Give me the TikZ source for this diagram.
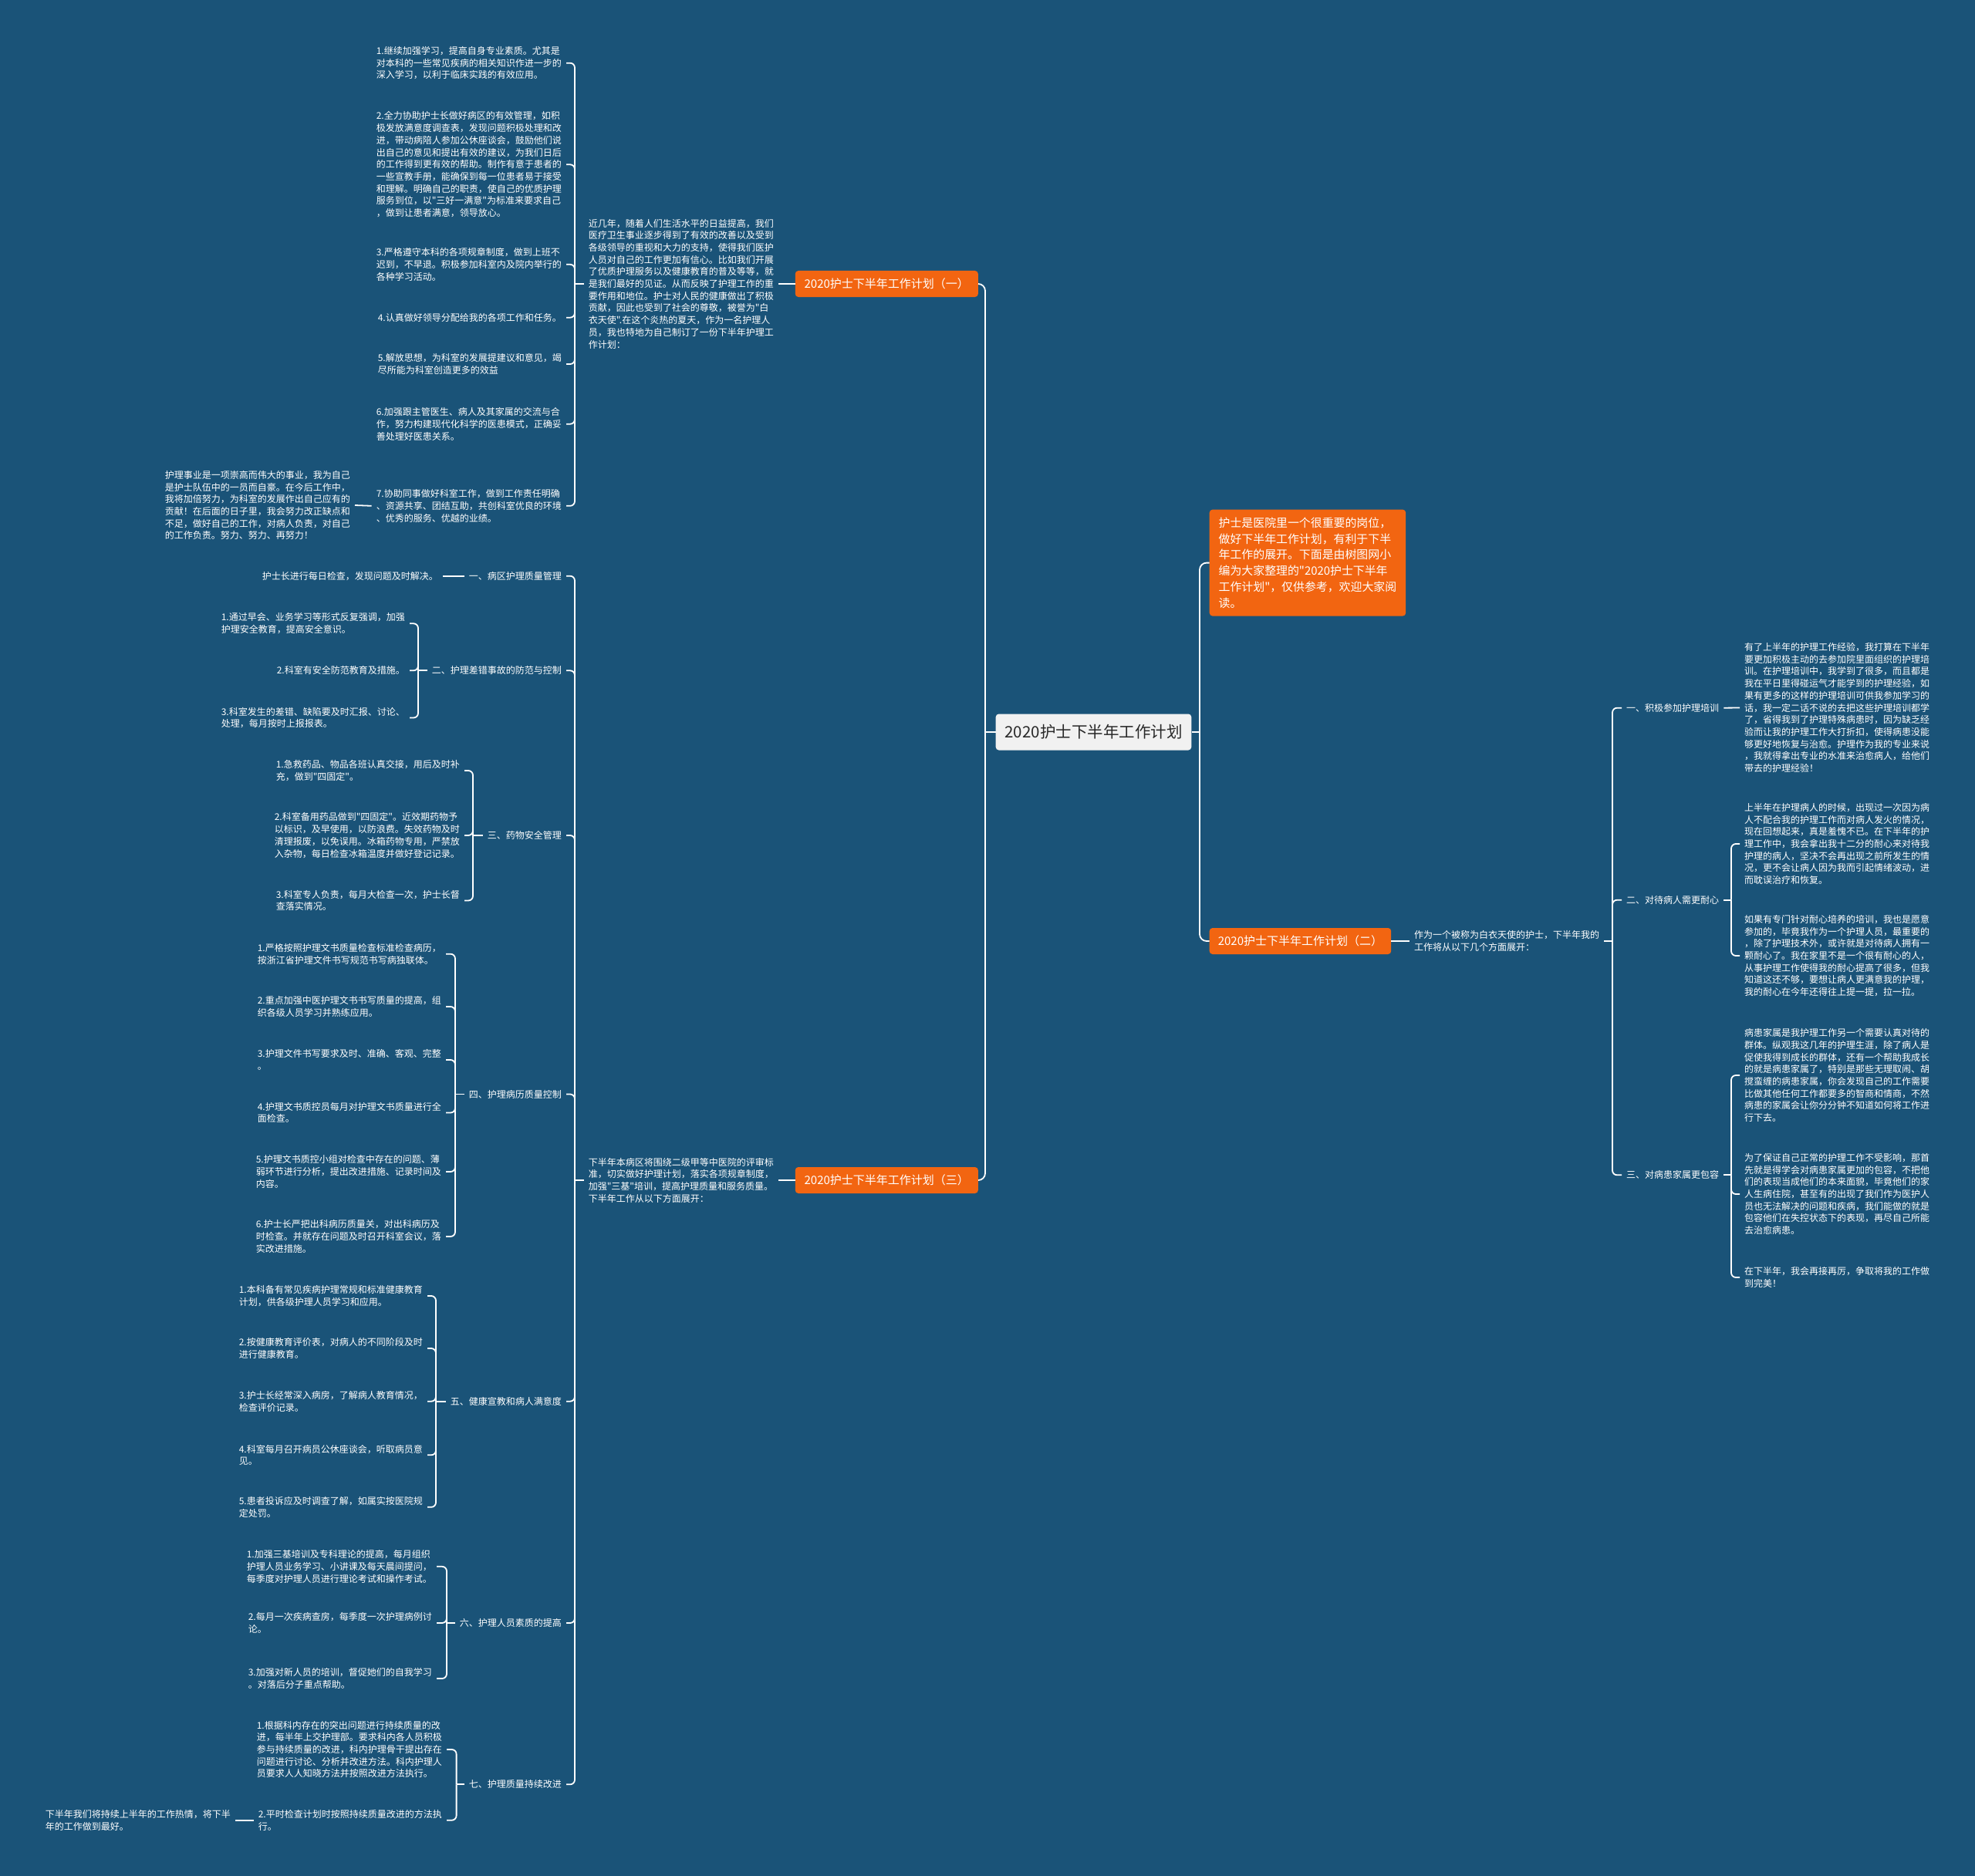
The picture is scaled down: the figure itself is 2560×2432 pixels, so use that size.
\documentclass[tikz,border=0pt]{standalone}
\usepackage{fontspec}
\setmainfont{Noto Sans CJK SC}[Ligatures=TeXOff]
\definecolor{bgc}{RGB}{26,83,120}
\definecolor{orng}{RGB}{242,101,17}
\definecolor{rootfill}{RGB}{241,241,241}
\definecolor{roottext}{RGB}{40,40,40}
\tikzset{
  conn/.style={draw=white, line width=1.8pt, rounded corners=6pt},
  trunk/.style={draw=white, line width=1.8pt, rounded corners=9pt},
  txt/.style={text=white, font=\fontsize{12}{15.7}\selectfont, align=left, inner xsep=6pt, inner ysep=2pt},
  obox/.style={fill=orng, text=white, rounded corners=4pt, font=\fontsize{15}{18}\selectfont, inner sep=0pt, minimum height=34pt},
}
\begin{document}
\begin{tikzpicture}[x=1pt,y=-1pt]
\fill[bgc] (0,0) rectangle (2560,2432);
\useasboundingbox (0,0) rectangle (2560,2432);

% root and first level
\node[fill=rootfill, text=roottext, rounded corners=4pt, minimum width=253.6pt, minimum height=47pt, inner sep=0pt, font=\fontsize{20.5}{24}\selectfont] (root) at (1417.5,949) {2020护士下半年工作计划};
\node[fill=orng, text=white, rounded corners=4pt, anchor=west, minimum width=254.5pt, minimum height=138pt, inner sep=0pt, align=left, font=\fontsize{14.9}{20.7}\selectfont] (intro) at (1567.5,729.6) {护士是医院里一个很重要的岗位，\\做好下半年工作计划，有利于下半\\年工作的展开。下面是由树图网小\\编为大家整理的"2020护士下半年\\工作计划"，仅供参考，欢迎大家阅\\读。};
\node[obox, anchor=west, minimum width=235.5pt] (b2) at (1567.5,1220) {2020护士下半年工作计划（二）};
\node[obox, anchor=east, minimum width=237pt] (b1) at (1268,368) {2020护士下半年工作计划（一）};
\node[obox, anchor=east, minimum width=237pt] (b3) at (1268,1530) {2020护士下半年工作计划（三）};

\coordinate (jL) at (1277,949);
\coordinate (jR) at (1555,949);
\draw[trunk] (root.west) -- (jL);
\draw[trunk] (jL) |- (b1.east);
\draw[trunk] (jL) |- (b3.east);
\draw[trunk] (root.east) -- (jR);
\draw[trunk] (jR) |- (intro.west);
\draw[trunk] (jR) |- (b2.west);

% ---------- branch 1 ----------
\node[txt, anchor=east] (t1) at (1009,368) {近几年，随着人们生活水平的日益提高，我们\\医疗卫生事业逐步得到了有效的改善以及受到\\各级领导的重视和大力的支持，使得我们医护\\人员对自己的工作更加有信心。比如我们开展\\了优质护理服务以及健康教育的普及等等，就\\是我们最好的见证。从而反映了护理工作的重\\要作用和地位。护士对人民的健康做出了积极\\贡献，因此也受到了社会的尊敬，被誉为"白\\衣天使".在这个炎热的夏天，作为一名护理人\\员，我也特地为自己制订了一份下半年护理工\\作计划：};
\draw[conn] (b1.west) -- (t1.east);
\coordinate (j1) at (745,368);
\draw[conn] (t1.west) -- (j1);

\node[txt, anchor=east] (a1) at (734,81.7) {1.继续加强学习，提高自身专业素质。尤其是\\对本科的一些常见疾病的相关知识作进一步的\\深入学习，以利于临床实践的有效应用。};
\node[txt, anchor=east] (a2) at (734,213.3) {2.全力协助护士长做好病区的有效管理，如积\\极发放满意度调查表，发现问题积极处理和改\\进，带动病陪人参加公休座谈会，鼓励他们说\\出自己的意见和提出有效的建议，为我们日后\\的工作得到更有效的帮助。制作有意于患者的\\一些宣教手册，能确保到每一位患者易于接受\\和理解。明确自己的职责，使自己的优质护理\\服务到位，以"三好一满意"为标准来要求自己\\，做到让患者满意，领导放心。};
\node[txt, anchor=east] (a3) at (734,342.8) {3.严格遵守本科的各项规章制度，做到上班不\\迟到，不早退。积极参加科室内及院内举行的\\各种学习活动。};
\node[txt, anchor=east] (a4) at (734,411.7) {4.认真做好领导分配给我的各项工作和任务。};
\node[txt, anchor=east] (a5) at (734,472) {5.解放思想，为科室的发展提建议和意见，竭\\尽所能为科室创造更多的效益};
\node[txt, anchor=east] (a6) at (734,549.7) {6.加强跟主管医生、病人及其家属的交流与合\\作，努力构建现代化科学的医患模式，正确妥\\善处理好医患关系。};
\node[txt, anchor=east] (a7) at (734,655.8) {7.协助同事做好科室工作，做到工作责任明确\\、资源共享、团结互助，共创科室优良的环境\\、优秀的服务、优越的业绩。};
\node[txt, anchor=east] (a7x) at (460,655) {护理事业是一项崇高而伟大的事业，我为自己\\是护士队伍中的一员而自豪。在今后工作中，\\我将加倍努力，为科室的发展作出自己应有的\\贡献！在后面的日子里，我会努力改正缺点和\\不足，做好自己的工作，对病人负责，对自己\\的工作负责。努力、努力、再努力！};
\foreach \n in {a1,a2,a3,a4,a5,a6,a7} {\draw[conn] (j1) |- (\n.east);}
\draw[conn] (a7.west) -- (a7x.east);

% ---------- branch 3 ----------
\node[txt, anchor=east] (t3) at (1009,1530) {下半年本病区将围绕二级甲等中医院的评审标\\准，切实做好护理计划，落实各项规章制度，\\加强"三基"培训，提高护理质量和服务质量。\\下半年工作从以下方面展开：};
\draw[conn] (b3.west) -- (t3.east);
\coordinate (j3) at (745,1530);
\draw[conn] (t3.west) -- (j3);

\node[txt, anchor=east] (s1) at (734,746.7) {一、病区护理质量管理};
\node[txt, anchor=east] (s2) at (734,869.3) {二、护理差错事故的防范与控制};
\node[txt, anchor=east] (s3) at (734,1083) {三、药物安全管理};
\node[txt, anchor=east] (s4) at (734,1418.5) {四、护理病历质量控制};
\node[txt, anchor=east] (s5) at (734,1816.7) {五、健康宣教和病人满意度};
\node[txt, anchor=east] (s6) at (734,2104) {六、护理人员素质的提高};
\node[txt, anchor=east] (s7) at (734,2313.3) {七、护理质量持续改进};
\foreach \n in {s1,s2,s3,s4,s5,s6,s7} {\draw[conn] (j3) |- (\n.east);}

% section 1
\node[txt, anchor=east] (s1a) at (574,746.7) {护士长进行每日检查，发现问题及时解决。};
\draw[conn] (s1.west) -- (s1a.east);

% section 2
\coordinate (j32) at (542,869.3);
\node[txt, anchor=east] (s2a) at (531,808.3) {1.通过早会、业务学习等形式反复强调，加强\\护理安全教育，提高安全意识。};
\node[txt, anchor=east] (s2b) at (531,869.3) {2.科室有安全防范教育及措施。};
\node[txt, anchor=east] (s2c) at (531,930.5) {3.科室发生的差错、缺陷要及时汇报、讨论、\\处理，每月按时上报报表。};
\draw[conn] (s2.west) -- (j32);
\foreach \n in {s2a,s2b,s2c} {\draw[conn] (j32) |- (\n.east);}

% section 3
\coordinate (j33) at (613,1083);
\node[txt, anchor=east] (s3a) at (602,999) {1.急救药品、物品各班认真交接，用后及时补\\充，做到"四固定"。};
\node[txt, anchor=east] (s3b) at (602,1083) {2.科室备用药品做到"四固定"。近效期药物予\\以标识，及早使用，以防浪费。失效药物及时\\清理报废，以免误用。冰箱药物专用，严禁放\\入杂物，每日检查冰箱温度并做好登记记录。};
\node[txt, anchor=east] (s3c) at (602,1167.5) {3.科室专人负责，每月大检查一次，护士长督\\查落实情况。};
\draw[conn] (s3.west) -- (j33);
\foreach \n in {s3a,s3b,s3c} {\draw[conn] (j33) |- (\n.east);}

% section 4
\coordinate (j34) at (590,1418.5);
\node[txt, anchor=east] (s4a) at (578,1236.7) {1.严格按照护理文书质量检查标准检查病历，\\按浙江省护理文件书写规范书写病独联体。};
\node[txt, anchor=east] (s4b) at (578,1305) {2.重点加强中医护理文书书写质量的提高，组\\织各级人员学习并熟练应用。};
\node[txt, anchor=east] (s4c) at (578,1374) {3.护理文件书写要求及时、准确、客观、完整\\。};
\node[txt, anchor=east] (s4d) at (578,1442.5) {4.护理文书质控员每月对护理文书质量进行全\\面检查。};
\node[txt, anchor=east] (s4e) at (578,1519) {5.护理文书质控小组对检查中存在的问题、薄\\弱环节进行分析，提出改进措施、记录时间及\\内容。};
\node[txt, anchor=east] (s4f) at (578,1603) {6.护士长严把出科病历质量关，对出科病历及\\时检查。并就存在问题及时召开科室会议，落\\实改进措施。};
\draw[conn] (s4.west) -- (j34);
\foreach \n in {s4a,s4b,s4c,s4d,s4e,s4f} {\draw[conn] (j34) |- (\n.east);}

% section 5
\coordinate (j35) at (565,1816.7);
\node[txt, anchor=east] (s5a) at (554,1680) {1.本科备有常见疾病护理常规和标准健康教育\\计划，供各级护理人员学习和应用。};
\node[txt, anchor=east] (s5b) at (554,1748) {2.按健康教育评价表，对病人的不同阶段及时\\进行健康教育。};
\node[txt, anchor=east] (s5c) at (554,1816.7) {3.护士长经常深入病房，了解病人教育情况，\\检查评价记录。};
\node[txt, anchor=east] (s5d) at (554,1886.3) {4.科室每月召开病员公休座谈会，听取病员意\\见。};
\node[txt, anchor=east] (s5e) at (554,1953.8) {5.患者投诉应及时调查了解，如属实按医院规\\定处罚。};
\draw[conn] (s5.west) -- (j35);
\foreach \n in {s5a,s5b,s5c,s5d,s5e} {\draw[conn] (j35) |- (\n.east);}

% section 6
\coordinate (j36) at (579,2104);
\node[txt, anchor=east] (s6a) at (566,2030.8) {1.加强三基培训及专科理论的提高，每月组织\\护理人员业务学习、小讲课及每天晨间提问，\\每季度对护理人员进行理论考试和操作考试。};
\node[txt, anchor=east] (s6b) at (566,2104) {2.每月一次疾病查房，每季度一次护理病例讨\\论。};
\node[txt, anchor=east] (s6c) at (566,2176) {3.加强对新人员的培训，督促她们的自我学习\\。对落后分子重点帮助。};
\draw[conn] (s6.west) -- (j36);
\foreach \n in {s6a,s6b,s6c} {\draw[conn] (j36) |- (\n.east);}

% section 7
\coordinate (j37) at (591.6,2313.3);
\node[txt, anchor=east] (s7a) at (579,2268) {1.根据科内存在的突出问题进行持续质量的改\\进，每半年上交护理部。要求科内各人员积极\\参与持续质量的改进，科内护理骨干提出存在\\问题进行讨论、分析并改进方法。科内护理人\\员要求人人知晓方法并按照改进方法执行。};
\node[txt, anchor=east] (s7b) at (579,2359.7) {2.平时检查计划时按照持续质量改进的方法执\\行。};
\node[txt, anchor=east] (s7x) at (305,2359.7) {下半年我们将持续上半年的工作热情，将下半\\年的工作做到最好。};
\draw[conn] (s7.west) -- (j37);
\foreach \n in {s7a,s7b} {\draw[conn] (j37) |- (\n.east);}
\draw[conn] (s7b.west) -- (s7x.east);

% ---------- branch 2 ----------
\node[txt, anchor=west] (t2) at (1827,1220) {作为一个被称为白衣天使的护士，下半年我的\\工作将从以下几个方面展开：};
\draw[conn] (b2.east) -- (t2.west);
\coordinate (jr) at (2090,1220);
\draw[conn] (t2.east) -- (jr);

\node[txt, anchor=west] (r1) at (2102,917.7) {一、积极参加护理培训};
\node[txt, anchor=west] (r2) at (2102,1166.7) {二、对待病人需更耐心};
\node[txt, anchor=west] (r3) at (2102,1523.3) {三、对病患家属更包容};
\foreach \n in {r1,r2,r3} {\draw[conn] (jr) |- (\n.west);}

\node[txt, anchor=west] (r1a) at (2255,917.5) {有了上半年的护理工作经验，我打算在下半年\\要更加积极主动的去参加院里面组织的护理培\\训。在护理培训中，我学到了很多，而且都是\\我在平日里得碰运气才能学到的护理经验，如\\果有更多的这样的护理培训可供我参加学习的\\话，我一定二话不说的去把这些护理培训都学\\了，省得我到了护理特殊病患时，因为缺乏经\\验而让我的护理工作大打折扣，使得病患没能\\够更好地恢复与治愈。护理作为我的专业来说\\，我就得拿出专业的水准来治愈病人，给他们\\带去的护理经验！};
\draw[conn] (r1.east) -- (r1a.west);

\coordinate (jr2) at (2244,1166.7);
\node[txt, anchor=west] (r2a) at (2255,1094) {上半年在护理病人的时候，出现过一次因为病\\人不配合我的护理工作而对病人发火的情况，\\现在回想起来，真是羞愧不已。在下半年的护\\理工作中，我会拿出我十二分的耐心来对待我\\护理的病人，坚决不会再出现之前所发生的情\\况，更不会让病人因为我而引起情绪波动，进\\而耽误治疗和恢复。};
\node[txt, anchor=west] (r2b) at (2255,1239) {如果有专门针对耐心培养的培训，我也是愿意\\参加的，毕竟我作为一个护理人员，最重要的\\，除了护理技术外，或许就是对待病人拥有一\\颗耐心了。我在家里不是一个很有耐心的人，\\从事护理工作使得我的耐心提高了很多，但我\\知道这还不够，要想让病人更满意我的护理，\\我的耐心在今年还得往上提一提，拉一拉。};
\draw[conn] (r2.east) -- (jr2);
\foreach \n in {r2a,r2b} {\draw[conn] (jr2) |- (\n.west);}

\coordinate (jr3) at (2244,1523.3);
\node[txt, anchor=west] (r3a) at (2255,1394) {病患家属是我护理工作另一个需要认真对待的\\群体。纵观我这几年的护理生涯，除了病人是\\促使我得到成长的群体，还有一个帮助我成长\\的就是病患家属了，特别是那些无理取闹、胡\\搅蛮缠的病患家属，你会发现自己的工作需要\\比做其他任何工作都要多的智商和情商，不然\\病患的家属会让你分分钟不知道如何将工作进\\行下去。};
\node[txt, anchor=west] (r3b) at (2255,1548) {为了保证自己正常的护理工作不受影响，那首\\先就是得学会对病患家属更加的包容，不把他\\们的表现当成他们的本来面貌，毕竟他们的家\\人生病住院，甚至有的出现了我们作为医护人\\员也无法解决的问题和疾病，我们能做的就是\\包容他们在失控状态下的表现，再尽自己所能\\去治愈病患。};
\node[txt, anchor=west] (r3c) at (2255,1656) {在下半年，我会再接再厉，争取将我的工作做\\到完美！};
\draw[conn] (r3.east) -- (jr3);
\foreach \n in {r3a,r3b,r3c} {\draw[conn] (jr3) |- (\n.west);}
\end{tikzpicture}
\end{document}
